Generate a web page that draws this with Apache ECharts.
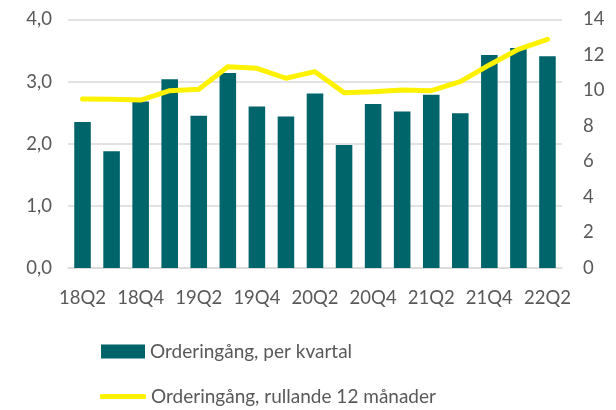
<!DOCTYPE html>
<html><head><meta charset="utf-8">
<script src="https://cdn.jsdelivr.net/npm/echarts@6/dist/echarts.min.js"></script>
<style>html,body{margin:0;padding:0;background:#fff}#c{width:616px;height:410px}</style>
</head><body><div id="c"></div>
<script>
const categories = ['18Q2','18Q3','18Q4','19Q1','19Q2','19Q3','19Q4','20Q1','20Q2','20Q3','20Q4','21Q1','21Q2','21Q3','21Q4','22Q1','22Q2'];
const perKvartal = [2.35,1.88,2.68,3.04,2.45,3.14,2.60,2.44,2.81,1.98,2.64,2.52,2.79,2.49,3.43,3.54,3.41];
const rullande12 = [9.52,9.51,9.46,9.99,10.07,11.34,11.25,10.69,11.06,9.88,9.93,10.03,9.99,10.5,11.44,12.32,12.88];
const seriesNames = ['Orderingång, per kvartal','Orderingång, rullande 12 månader'];

const FONT = 'Lato';
const FS = 18.5;
const legendText = {fontFamily:FONT,fontSize:19,color:'#595959',padding:[0,0,0,0]};
const chart = echarts.init(document.getElementById('c'));
chart.setOption({
  animation:false,
  textStyle:{fontFamily:FONT},
  grid:{left:68,right:54,top:19.5,bottom:142,containLabel:false},
  legend:[{
    left:101, top:342, padding:0, itemWidth:44, itemHeight:14,
    textStyle:legendText,
    data:[{name:seriesNames[0],icon:'rect'}]
  },{
    left:100, top:387, padding:0, itemWidth:46, itemHeight:5,
    textStyle:legendText,
    data:[{name:seriesNames[1],icon:'roundRect',itemStyle:{color:'#FFF200'}}]
  }],
  xAxis:{
    type:'category', data:categories,
    axisTick:{show:false},
    axisLine:{lineStyle:{color:'#D9D9D9',width:1.5}},
    axisLabel:{interval:1,color:'#595959',fontSize:FS,fontFamily:FONT,margin:21}
  },
  yAxis:[{
    type:'value',min:0,max:4,interval:1,
    axisLabel:{color:'#595959',fontSize:FS,fontFamily:FONT,margin:16,formatter:v=>v.toFixed(1).replace('.',',')},
    splitLine:{lineStyle:{color:'#D9D9D9',width:1.5}},
    axisLine:{show:false},axisTick:{show:false}
  },{
    type:'value',min:0,max:14,interval:2,position:'right',
    axisLabel:{color:'#595959',fontSize:FS,fontFamily:FONT,margin:21},
    splitLine:{show:false},axisLine:{show:false},axisTick:{show:false}
  }],
  series:[{
    name:seriesNames[0],type:'bar',data:perKvartal,barWidth:'57%',
    itemStyle:{color:'#00646B'}
  },{
    name:seriesNames[1],type:'line',yAxisIndex:1,data:rullande12,
    symbol:'none',smooth:false,
    lineStyle:{color:'#FFF200',width:5,cap:'round',join:'round'},
    itemStyle:{color:'#FFF200'}
  }]
});
</script></body></html>
